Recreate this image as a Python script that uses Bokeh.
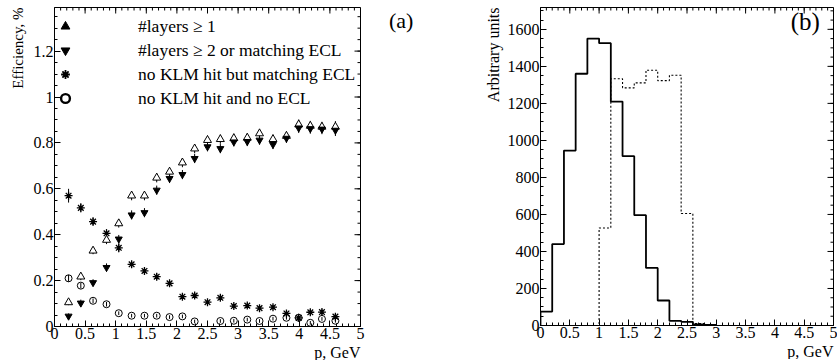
import math
from bokeh.plotting import figure
from bokeh.layouts import row
from bokeh.models import Legend, LegendItem, FixedTicker, Range1d, Title, Div
from bokeh.embed import file_html
from bokeh.resources import INLINE

FONT = "Liberation Serif"
NAN = float("nan")

# ---------------- panel (a) data ----------------
p_gev = [0.23, 0.43, 0.63, 0.85, 1.05, 1.26, 1.47, 1.67, 1.88, 2.09, 2.29,
         2.50, 2.71, 2.93, 3.15, 3.35, 3.57, 3.79, 3.99, 4.18, 4.37, 4.59]
eff_layers1 = [0.105, 0.217, 0.330, 0.377, 0.449, 0.570, 0.570, 0.648, 0.674, 0.714, 0.775,
               0.812, 0.816, 0.820, 0.822, 0.841, 0.816, 0.830, 0.880, 0.874, 0.870, 0.870]
eff_layers2 = [0.045, 0.102, 0.191, 0.257, 0.381, 0.486, 0.496, 0.594, 0.645, 0.662, 0.732,
               0.783, 0.775, 0.804, 0.806, 0.812, 0.793, 0.820, 0.865, 0.862, 0.860, 0.855]
eff_ecl = [0.570, 0.517, 0.457, 0.406, 0.343, 0.271, 0.242, 0.217, 0.188, 0.130, 0.135,
           0.106, 0.125, 0.089, 0.091, 0.080, 0.084, 0.057, 0.038, 0.062, 0.063, 0.043]
eff_none = [0.210, 0.178, 0.112, 0.097, 0.058, 0.047, 0.047, 0.047, 0.041, 0.044, 0.022,
            NAN, 0.024, 0.025, 0.030, 0.024, 0.034, 0.038, 0.038, 0.016, 0.033, 0.025]
err_layers1 = [0.012, 0.015, 0.015, 0.018, 0.018, 0.02, 0.02, 0.02, 0.02, 0.02, 0.02,
               0.02, 0.02, 0.02, 0.02, 0.02, 0.02, 0.02, 0.022, 0.022, 0.022, 0.025]
err_layers2 = [0.012, 0.015, 0.015, 0.018, 0.018, 0.02, 0.02, 0.02, 0.02, 0.02, 0.02,
               0.02, 0.02, 0.02, 0.02, 0.02, 0.02, 0.02, 0.022, 0.022, 0.022, 0.025]
err_ecl = [0.03, 0.02, 0.018, 0.018, 0.02, 0.015, 0.015, 0.015, 0.012, 0.012, 0.012,
           0.012, 0.012, 0.01, 0.01, 0.01, 0.01, 0.01, 0.01, 0.012, 0.012, 0.012]
err_none = [0.015, 0.012, 0.01, 0.01, 0.008, 0.008, 0.008, 0.008, 0.008, 0.008, 0.008,
            NAN, 0.008, 0.008, 0.008, 0.008, 0.008, 0.008, 0.008, 0.008, 0.008, 0.008]
legend_labels = ["#layers \u2265 1", "#layers \u2265 2 or matching ECL",
                 "no KLM hit but matching ECL", "no KLM hit and no ECL"]

a_x_ticks = [0, 0.5, 1, 1.5, 2, 2.5, 3, 3.5, 4, 4.5, 5]
a_x_labels = ["0", "0.5", "1", "1.5", "2", "2.5", "3", "3.5", "4", "4.5", "5"]
a_y_ticks = [0, 0.2, 0.4, 0.6, 0.8, 1.0, 1.2]
a_y_labels = ["0", "0.2", "0.4", "0.6", "0.8", "1", "1.2"]

# ---------------- panel (b) data ----------------
bin_edges = [0.0, 0.2, 0.4, 0.6, 0.8, 1.0, 1.2, 1.4, 1.6, 1.8, 2.0, 2.2, 2.4, 2.6, 2.8, 3.0]
counts_solid = [75, 440, 945, 1360, 1550, 1525, 1210, 915, 596, 311, 135, 25, 20, 6, 3]
counts_dashed = [0, 0, 0, 0, 0, 527, 1333, 1284, 1311, 1379, 1323, 1352, 605, 10, 4]
b_x_ticks = a_x_ticks
b_x_labels = a_x_labels
b_y_ticks = [0, 200, 400, 600, 800, 1000, 1200, 1400, 1600]
b_y_labels = ["0", "200", "400", "600", "800", "1000", "1200", "1400", "1600"]


def minor_list(start, stop, step):
    n = int(round((stop - start) / step))
    return [round(start + i * step, 6) for i in range(n + 1)]


def style(p, xt, xl, yt, yl, xminor, yminor):
    p.outline_line_color = "black"
    p.outline_line_width = 1
    p.grid.visible = False
    p.background_fill_color = "white"
    p.border_fill_color = "white"
    p.xaxis.ticker = FixedTicker(ticks=xt, minor_ticks=xminor)
    p.yaxis.ticker = FixedTicker(ticks=yt, minor_ticks=yminor)
    for ax in (p.xaxis[0], p.yaxis[0]):
        ax.axis_line_color = "black"
        ax.major_tick_in = 6
        ax.major_tick_out = 0
        ax.minor_tick_in = 3
        ax.minor_tick_out = 0
        ax.major_tick_line_color = "black"
        ax.minor_tick_line_color = "black"
        ax.major_label_text_font = FONT
        ax.major_label_text_font_size = "16px"
        ax.major_label_text_color = "black"
        ax.major_label_standoff = 1
    p.xaxis[0].major_label_overrides = dict(zip(xt, xl))
    p.yaxis[0].major_label_overrides = dict(zip(yt, yl))
    # inside ticks on the top and right edges
    xe = p.x_range.end
    ye = p.y_range.end
    p.ray(x=xt, y=[ye] * len(xt), length=6, length_units="screen", angle=-math.pi / 2,
          line_color="black", line_width=1)
    p.ray(x=xminor, y=[ye] * len(xminor), length=3, length_units="screen",
          angle=-math.pi / 2, line_color="black", line_width=1)
    p.ray(x=[xe] * len(yt), y=yt, length=6, length_units="screen", angle=math.pi,
          line_color="black", line_width=1)
    p.ray(x=[xe] * len(yminor), y=yminor, length=3, length_units="screen", angle=math.pi,
          line_color="black", line_width=1)


def side_title(p, text, side, size, standoff=0):
    t = Title(text=text, align="right", text_font=FONT, text_font_size=size,
              text_color="black", text_font_style="normal", standoff=standoff)
    p.add_layout(t, side)


# ================= panel (a) =================
pa = figure(width=372, height=360, output_backend="svg", toolbar_location=None,
            x_range=Range1d(0, 5), y_range=Range1d(0, 1.39),
            min_border_left=54, min_border_right=12, min_border_top=5, min_border_bottom=30)
style(pa, a_x_ticks, a_x_labels, a_y_ticks, a_y_labels,
      minor_list(0, 5, 0.1), minor_list(0, 1.35, 0.05))


def errbars(p, x, y, e):
    lo = [yy - ee for yy, ee in zip(y, e)]
    hi = [yy + ee for yy, ee in zip(y, e)]
    p.segment(x0=x, y0=lo, x1=x, y1=hi, line_color="black", line_width=1)


errbars(pa, p_gev, eff_layers1, err_layers1)
errbars(pa, p_gev, eff_layers2, err_layers2)
errbars(pa, p_gev, eff_ecl, err_ecl)
errbars(pa, p_gev, eff_none, err_none)

pa.scatter(p_gev, eff_none, marker="circle", size=7, fill_alpha=0,
           line_color="black", line_width=1)
pa.scatter(p_gev, eff_ecl, marker="asterisk", size=8, line_color="black", line_width=1.3)
pa.scatter(p_gev, eff_layers1, marker="triangle", size=8, fill_color="white",
           line_color="black", line_width=1)
pa.scatter(p_gev, eff_layers2, marker="inverted_triangle", size=7, fill_color="black",
           line_color="black", line_width=1)

# legend-only glyphs (filled / bold style as in the original legend)
lg1 = pa.scatter([NAN], [NAN], marker="triangle", fill_color="black", line_color="black")
lg2 = pa.scatter([NAN], [NAN], marker="inverted_triangle", fill_color="black",
                 line_color="black")
lg3 = pa.scatter([NAN], [NAN], marker="asterisk", line_color="black", line_width=1.8)
lg4 = pa.scatter([NAN], [NAN], marker="circle", fill_alpha=0, line_color="black",
                 line_width=2.4)
legend = Legend(items=[LegendItem(label=t, renderers=[r]) for t, r in
                       zip(legend_labels, [lg1, lg2, lg3, lg4])],
                location=(0, 217), margin=0, padding=0, spacing=2,
                glyph_width=22, glyph_height=22, label_height=22, label_standoff=62,
                label_text_font=FONT, label_text_font_size="17.5px", label_text_color="black",
                border_line_color=None, background_fill_alpha=0)
pa.add_layout(legend)

side_title(pa, "Efficiency, %", "left", "15px", standoff=9)
side_title(pa, "p, GeV", "below", "16px", standoff=0)

tag_a = Div(text="(a)", width=46, height=40, margin=(0, 0, 0, 0),
            styles={"font-family": FONT, "font-size": "22px", "line-height": "22px",
                    "text-align": "left", "padding-top": "10px", "padding-left": "17px",
                    "color": "black"})

# ================= panel (b) =================
pb = figure(width=419, height=359, output_backend="svg", toolbar_location=None,
            x_range=Range1d(0, 5), y_range=Range1d(0, 1718),
            min_border_left=122, min_border_right=4, min_border_top=7, min_border_bottom=30)
style(pb, b_x_ticks, b_x_labels, b_y_ticks, b_y_labels,
      minor_list(0, 5, 0.1), minor_list(0, 1700, 50))


def stairs(edges, counts):
    xs = [edges[0]] + list(edges)
    ys = [0] + list(counts) + [0]
    return xs, ys


xs, ys = stairs(bin_edges, counts_solid)
pb.step(xs, ys, mode="after", line_color="black", line_width=1.8)
xs2, ys2 = stairs(bin_edges, counts_dashed)
pb.step(xs2, ys2, mode="after", line_color="black", line_width=1.1, line_dash="2 2")

pb.text(x=[4.52], y=[1640], text=["(b)"], text_align="center", text_baseline="middle",
        text_font={"value": FONT}, text_font_size={"value": "25px"}, text_color="black")

side_title(pb, "Arbitrary units", "left", "16px", standoff=5)
side_title(pb, "p, GeV", "below", "16px", standoff=0)

layout = row(pa, tag_a, pb)
open("out.html", "w").write(file_html(layout, INLINE))
